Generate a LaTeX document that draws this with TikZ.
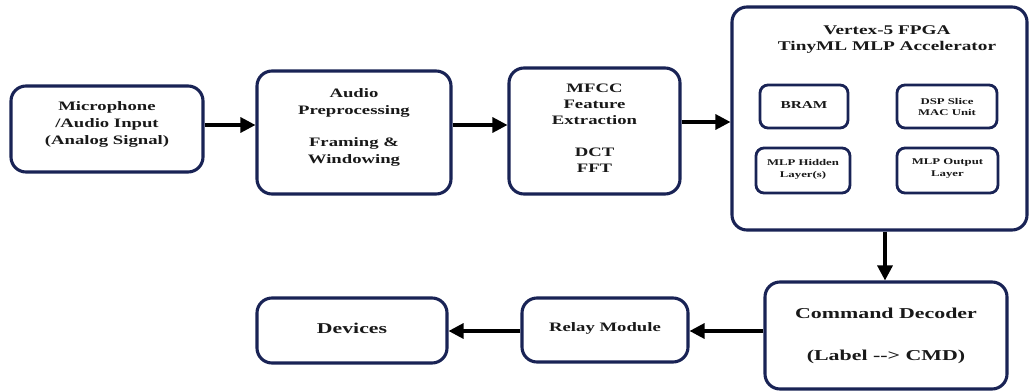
\documentclass[tikz,border=0pt]{standalone}
\usepackage{fontspec}
\setmainfont{Liberation Serif}[FakeStretch=1.45]
\usetikzlibrary{arrows.meta}
\definecolor{navy}{RGB}{25,35,85}
\begin{document}
\begin{tikzpicture}[x=1pt,y=-1pt,
  box/.style={draw=navy, line width=3.1pt, rounded corners=15pt, fill=white, inner sep=0pt},
  ibox/.style={draw=navy, line width=2.8pt, rounded corners=8pt, fill=white, inner sep=0pt},
  txt/.style={align=center, font=\bfseries, inner sep=0pt, text=black!90},
  arr/.style={line width=3.2pt, draw=black, -{Triangle[length=15pt,width=15pt]}}]
\useasboundingbox (0,0) rectangle (1030,391);
% boxes
\node[box, minimum width=192pt, minimum height=86pt] (mic) at (107,129) {};
\node[box, minimum width=194pt, minimum height=123pt] (audio) at (354,132.5) {};
\node[box, minimum width=171pt, minimum height=126pt] (mfcc) at (594.5,131) {};
\node[box, minimum width=295pt, minimum height=223pt] (fpga) at (879.5,118.5) {};
\node[ibox, minimum width=88pt, minimum height=43pt] (bram) at (804,106.5) {};
\node[ibox, minimum width=100pt, minimum height=43pt] (dsp) at (947,106.5) {};
\node[ibox, minimum width=94pt, minimum height=45pt] (hidden) at (803,170.5) {};
\node[ibox, minimum width=101pt, minimum height=45pt] (output) at (947.5,170.5) {};
\node[box, minimum width=242pt, minimum height=107pt] (cmd) at (886,335.5) {};
\node[box, minimum width=166pt, minimum height=64pt] (relay) at (605,330) {};
\node[box, minimum width=190pt, minimum height=65pt] (devices) at (352,330.5) {};
% texts
\node[txt, font=\bfseries\fontsize{12.9}{17}\selectfont] (mict) at (107,124) {Microphone\\/Audio Input\\(Analog Signal)};
\node[txt, font=\bfseries\fontsize{12.9}{16.3}\selectfont] (audiot) at (354,127.5) {Audio\\Preprocessing\\[16.3pt]Framing \&\\Windowing};
\node[txt, font=\bfseries\fontsize{12.9}{16}\selectfont] (mfcct) at (594.5,128) {MFCC\\Feature\\Extraction\\[16pt]DCT\\FFT};
\node[txt, font=\bfseries\fontsize{13.3}{16}\selectfont] (fpgat) at (887,40) {Vertex-5 FPGA\\TinyML MLP Accelerator};
\node[txt, font=\bfseries\fontsize{10.6}{12}\selectfont] (bramt) at (804,105) {BRAM};
\node[txt, font=\bfseries\fontsize{8.8}{11.5}\selectfont] (dspt) at (947,107) {DSP Slice\\MAC Unit};
\node[txt, font=\bfseries\fontsize{8.8}{12}\selectfont] (hiddent) at (803,169) {MLP Hidden\\Layer(s)};
\node[txt, font=\bfseries\fontsize{8.8}{12}\selectfont] (outputt) at (947.5,169) {MLP Output\\Layer};
\node[txt, font=\bfseries\fontsize{15.1}{19}\selectfont] (cmdt) at (886,336) {Command Decoder\\[23pt](Label -{}-{}> CMD)};
\node[txt, font=\bfseries\fontsize{12.9}{16}\selectfont] (relayt) at (605,328) {Relay Module};
\node[txt, font=\bfseries\fontsize{15}{18}\selectfont] (devicest) at (352,328) {Devices};
% arrows
\draw[arr] (mic.east |- 0,125) -- (audio.west |- 0,125);
\draw[arr] (audio.east |- 0,125) -- (mfcc.west |- 0,125);
\draw[arr] (mfcc.east |- 0,122) -- (fpga.west |- 0,122);
\draw[arr] (fpga.south -| 885,0) -- (cmd.north -| 885,0);
\draw[arr] (cmd.west |- 0,331) -- (relay.east |- 0,331);
\draw[arr] (relay.west |- 0,331) -- (devices.east |- 0,331);
\end{tikzpicture}
\end{document}
